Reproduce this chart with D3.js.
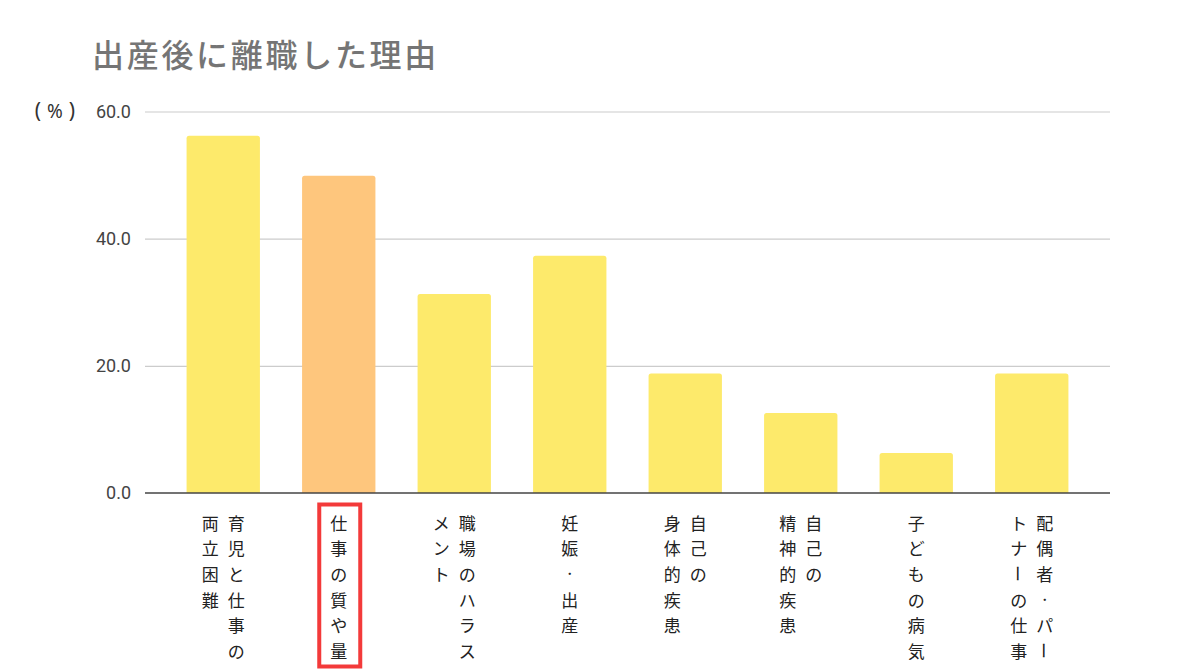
<!DOCTYPE html>
<html><head><meta charset="utf-8">
<script src="https://cdn.jsdelivr.net/npm/d3@7/dist/d3.min.js"></script>
<style>html,body{margin:0;padding:0;background:#fff;}svg{display:block;}</style>
</head><body>
<svg id="c" width="1200" height="672"></svg>
<script>
const title = "出産後に離職した理由";
const categories = ["育児と仕事の両立困難","仕事の質や量","職場のハラスメント","妊娠・出産","自己の身体的疾患","自己の精神的疾患","子どもの病気","配偶者・パートナーの仕事"];
const labelColumns = [["育児と仕事の","両立困難"],["仕事の質や量"],["職場のハラス","メント"],["妊娠・出産"],["自己の","身体的疾患"],["自己の","精神的疾患"],["子どもの病気"],["配偶者・パー","トナーの仕事"]];
const values = [56.2, 49.9, 31.3, 37.3, 18.8, 12.6, 6.3, 18.8];
const highlight = [false, true, false, false, false, false, false, false];
const yTicks = [0, 20, 40, 60];
const yUnitParts = ["(", "%", ")"];

const svg = d3.select("#c");
const font = "'Noto Sans CJK JP','Noto Sans',sans-serif";
const x = d3.scaleBand().domain(categories).range([145, 1110]).paddingInner(0.365).paddingOuter(0.36);
const y = d3.scaleLinear().domain([0, 60]).range([493, 111.5]);

svg.append("text").attr("x", 92).attr("y", 67).text(title)
  .attr("font-family", font).attr("font-size", 32).attr("font-weight", 500)
  .attr("letter-spacing", 2.7).attr("fill", "#757575");

// grid
const gy = svg.append("g").attr("transform", "translate(145,0)")
  .call(d3.axisLeft(y).tickValues(yTicks).tickSize(-965).tickFormat(d3.format(".1f")));
gy.select(".domain").remove();
gy.selectAll(".tick line").attr("stroke", "#cccccc").attr("stroke-width", 1.2);
gy.selectAll(".tick text").attr("x", -14).attr("font-family", "Roboto, 'Noto Sans', sans-serif")
  .attr("font-size", 18).attr("fill", "#444");
gy.selectAll(".tick").filter(d => d === 0).select("line").remove();

// unit label
const ux = [38, 55, 72];
yUnitParts.forEach((p, i) => {
  svg.append("text").attr("x", ux[i]).attr("y", 118).attr("text-anchor", "middle").text(p)
    .attr("font-family", "'Noto Sans', sans-serif").attr("font-size", i === 1 ? 19 : 21).attr("fill", "#333");
});

// bars
svg.append("g").selectAll("path").data(categories).join("path")
  .attr("d", (d, i) => {
    const x0 = x(d), w = x.bandwidth(), y0 = y(values[i]), yb = y(0), r = 2.5;
    return `M${x0},${yb}V${y0 + r}Q${x0},${y0} ${x0 + r},${y0}H${x0 + w - r}Q${x0 + w},${y0} ${x0 + w},${y0 + r}V${yb}Z`;
  })
  .attr("fill", (d, i) => highlight[i] ? "#fec67d" : "#fdea6b");

// baseline
svg.append("line").attr("x1", 145).attr("x2", 1110).attr("y1", y(0)).attr("y2", y(0))
  .attr("stroke", "#444").attr("stroke-width", 1.6);

// vertical labels
const lg = svg.append("g");
categories.forEach((c, i) => {
  const cx = x(c) + x.bandwidth() / 2;
  const cols = labelColumns[i];
  const n = cols.length;
  cols.forEach((col, j) => {
    const colX = cx + ((n - 1) / 2 - j) * 26;
    Array.from(col).forEach((ch, k) => {
      const cy = 522 + k * 25.7;
      const t = lg.append("text").attr("x", colX).attr("y", cy)
        .attr("text-anchor", "middle").attr("dominant-baseline", "central")
        .attr("font-family", font).attr("font-size", ch === "・" ? 11 : 17).attr("fill", "#222").text(ch);
      if (ch === "ー") t.attr("transform", `rotate(90,${colX},${cy})`);
    });
  });
  if (highlight[i]) {
    lg.append("rect").attr("x", cx - 19.5).attr("y", 504.5).attr("width", 41).attr("height", 162)
      .attr("fill", "none").attr("stroke", "#f33a3a").attr("stroke-width", 4);
  }
});
</script>
</body></html>
